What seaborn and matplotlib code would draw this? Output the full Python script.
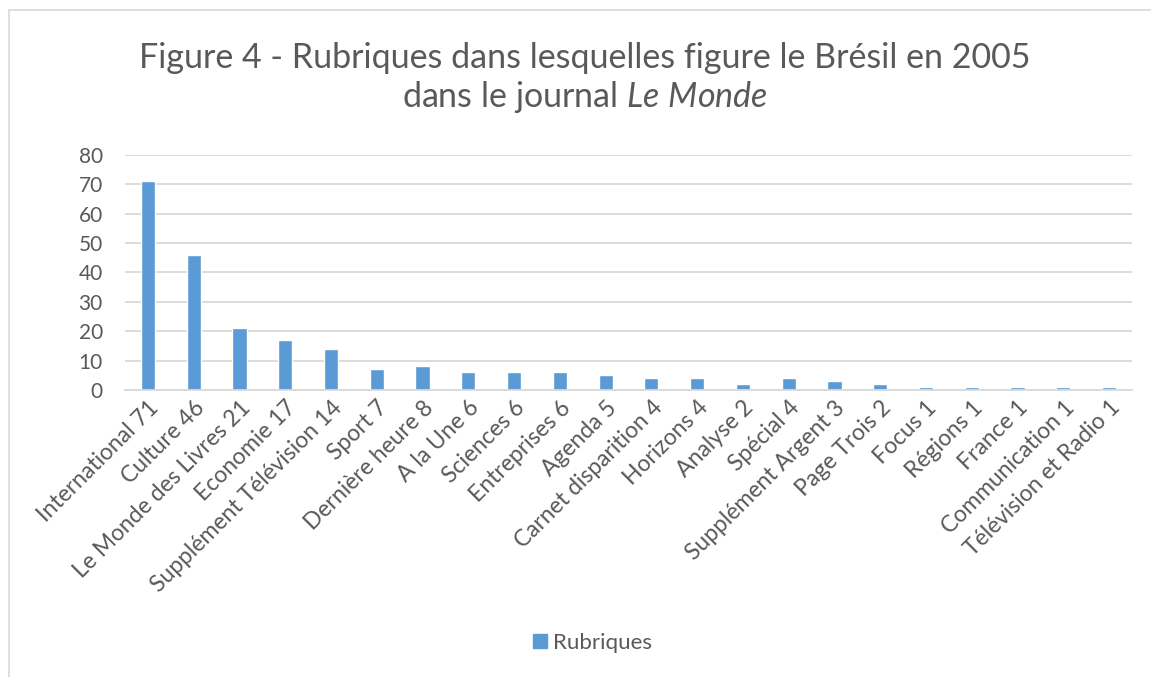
import matplotlib
matplotlib.use("Agg")
import matplotlib.pyplot as plt
import seaborn as sns
import pandas as pd
from matplotlib.patches import Patch, Rectangle

categories = ["International 71", "Culture 46", "Le Monde des Livres 21", "Economie 17",
              "Supplément Télévision 14", "Sport 7", "Dernière heure 8", "A la Une 6",
              "Sciences 6", "Entreprises 6", "Agenda 5", "Carnet disparition 4",
              "Horizons 4", "Analyse 2", "Spécial 4", "Supplément Argent 3",
              "Page Trois 2", "Focus 1", "Régions 1", "France 1", "Communication 1",
              "Télévision et Radio 1"]
values = [71, 46, 21, 17, 14, 7, 8, 6, 6, 6, 5, 4, 4, 2, 4, 3, 2, 1, 1, 1, 1, 1]
series_name = "Rubriques"
y_ticks = [0, 10, 20, 30, 40, 50, 60, 70, 80]

sns.set_theme(style="white")
plt.rcParams['font.family'] = ['Lato', 'DejaVu Sans']
plt.rcParams['mathtext.fontset'] = 'custom'
plt.rcParams['mathtext.rm'] = 'Lato'
plt.rcParams['mathtext.it'] = 'Lato:italic'

df = pd.DataFrame({"cat": categories, "val": values})

fig = plt.figure(figsize=(11.51, 6.77), dpi=100)
ax = fig.add_axes([0.1086, 0.424, 0.8749, 0.347])
blue = "#5B9BD5"
text_c = "#595959"
sns.barplot(data=df, x="cat", y="val", color=blue, width=0.31, ax=ax, saturation=1)

ax.set_ylim(0, 80)
ax.set_yticks(y_ticks)
ax.set_xlim(-0.5, len(categories) - 0.5)
ax.yaxis.grid(True, color="#D9D9D9", linewidth=1.3)
ax.set_axisbelow(True)
for s in ["top", "right", "left"]:
    ax.spines[s].set_visible(False)
ax.spines["bottom"].set_color("#D9D9D9")
ax.spines["bottom"].set_linewidth(1.3)
ax.set_xlabel("")
ax.set_ylabel("")
ax.tick_params(axis="y", labelsize=15, labelcolor=text_c, length=0, pad=16)
ax.tick_params(axis="x", length=0, pad=5)
ax.set_xticks(range(len(categories)))
ax.set_xticklabels(categories, rotation=45, ha="right", rotation_mode="anchor",
                   fontsize=16.5, color=text_c)

fig.text(0.508, 0.915, "Figure 4 - Rubriques dans lesquelles figure le Brésil en 2005",
         ha="center", va="center", fontsize=24.5, color=text_c)
fig.text(0.508, 0.857, "dans le journal $\\mathit{Le\\ Monde}$",
         ha="center", va="center", fontsize=24.5, color=text_c)

leg = fig.legend(handles=[Patch(color=blue, label=series_name)], loc="center",
                 bbox_to_anchor=(0.515, 0.05), frameon=False, fontsize=16,
                 handlelength=0.6, handleheight=0.6, handletextpad=0.3)
for t in leg.get_texts():
    t.set_color(text_c)

fig.patches.append(Rectangle((0.008, -0.1), 1.2, 1.085, transform=fig.transFigure,
                             fill=False, edgecolor="#D9D9D9", linewidth=1.2))

fig.savefig("out.png", dpi=100)
